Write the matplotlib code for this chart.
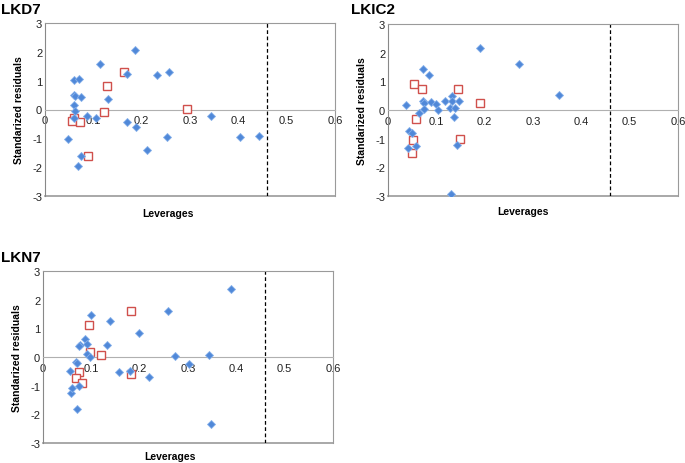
import numpy as np
from matplotlib import pyplot as plt

# LKD7
lkd7_train_lev = [0.047, 0.059, 0.070, 0.059, 0.062, 0.074, 0.059, 0.063, 0.060, 0.086,
                  0.105, 0.074, 0.069, 0.114, 0.131, 0.170, 0.186, 0.170, 0.189, 0.212,
                  0.232, 0.257, 0.253, 0.344, 0.403, 0.442]
lkd7_train_res = [-1.04, 1.02, 1.07, 0.52, 0.48, 0.43, 0.15, -0.06, -0.30, -0.21,
                  -0.31, -1.61, -1.96, 1.57, 0.36, 1.24, 2.08, -0.45, -0.61, -1.40,
                  1.19, 1.30, -0.97, -0.23, -0.94, -0.93]
lkd7_test_lev = [0.059, 0.055, 0.072, 0.088, 0.123, 0.129, 0.164, 0.294]
lkd7_test_res = [-0.30, -0.39, -0.42, -1.61, -0.10, 0.82, 1.31, 0.01]

# LKIC2
lkic2_train_lev = [0.038, 0.043, 0.050, 0.041, 0.057, 0.064, 0.072, 0.074, 0.074, 0.073,
                   0.085, 0.088, 0.099, 0.103, 0.117, 0.129, 0.133, 0.133, 0.138, 0.136,
                   0.146, 0.142, 0.130, 0.191, 0.271, 0.353]
lkic2_train_res = [0.19, -0.72, -0.79, -1.33, -1.26, -0.10, 0.32, 0.26, 0.02, 1.44,
                   1.23, 0.27, 0.20, -0.01, 0.31, 0.08, 0.49, 0.31, 0.07, -0.24,
                   0.31, -1.23, -2.94, 2.18, 1.61, 0.53]
lkic2_test_lev = [0.054, 0.070, 0.144, 0.191, 0.058, 0.052, 0.050, 0.149]
lkic2_test_res = [0.90, 0.72, 0.74, 0.26, -0.33, -1.06, -1.49, -1.00]

# LKN7
lkn7_train_lev = [0.055, 0.057, 0.061, 0.069, 0.070, 0.071, 0.076, 0.074, 0.075, 0.086,
                  0.090, 0.092, 0.097, 0.099, 0.132, 0.138, 0.157, 0.179, 0.198, 0.219,
                  0.259, 0.274, 0.303, 0.343, 0.348, 0.388]
lkn7_train_res = [-0.50, -1.25, -1.07, -0.16, -0.21, -1.80, 0.42, 0.38, -1.01, 0.63,
                  0.45, 0.12, -0.01, 1.46, 0.42, 1.26, -0.52, -0.49, 0.83, -0.70,
                  1.60, 0.05, -0.24, 0.06, -2.33, 2.36]
lkn7_test_lev = [0.095, 0.183, 0.097, 0.121, 0.074, 0.069, 0.081, 0.183]
lkn7_test_res = [1.12, 1.59, 0.17, 0.06, -0.52, -0.72, -0.90, -0.59]

h_star = 0.46
xticks = [0, 0.1, 0.2, 0.3, 0.4, 0.5, 0.6]
yticks = [-3, -2, -1, 0, 1, 2, 3]

W, H = 685, 464
fig = plt.figure(figsize=(W / 100, H / 100), dpi=100)
plt.rcParams['font.family'] = ['Liberation Sans', 'DejaVu Sans']

panels = [
    # name, axes box in px (left, top, right, bottom), title pos px, xlabel pos (axes frac)
    ("LKD7", (45, 24, 335, 197), (1, 10), (0.424, -0.072),
     lkd7_train_lev, lkd7_train_res, lkd7_test_lev, lkd7_test_res),
    ("LKIC2", (388, 25, 678, 197), (351, 10), (0.464, -0.060),
     lkic2_train_lev, lkic2_train_res, lkic2_test_lev, lkic2_test_res),
    ("LKN7", (43, 272, 333, 444), (1, 258), (0.438, -0.047),
     lkn7_train_lev, lkn7_train_res, lkn7_test_lev, lkn7_test_res),
]

grey = '#9a9a9a'
for name, box, tpos, xlpos, trl, trr, tel, ter in panels:
    l, t, r, b = box
    ax = fig.add_axes([l / W, 1 - b / H, (r - l) / W, (b - t) / H])
    ax.set_xlim(0, 0.6)
    ax.set_ylim(-3, 3)
    ax.set_xticks(xticks)
    ax.set_xticklabels([f"{v:g}" for v in xticks])
    ax.set_yticks(yticks)
    ax.set_yticklabels([f"{v:d}" for v in yticks])
    ax.tick_params(length=0, labelsize=8, colors='#222222', pad=2)
    ax.tick_params(axis='x', pad=4)

    # x axis drawn through y = 0, like the Excel original
    ax.spines['bottom'].set_position(('data', 0))
    ax.spines['bottom'].set_color('#b0b0b0')
    for s in ['top', 'right']:
        ax.spines[s].set_color(grey)
    ax.spines['left'].set_color('#888888')
    ax.axhline(-3, color=grey, lw=1.2, clip_on=False)

    ax.axvline(h_star, color='black', ls=(0, (3, 2)), lw=0.9)

    ax.plot(tel, ter, 's', ms=5.4, mfc='white', mec='#d0504c', mew=1.0, zorder=3)
    ax.plot(trl, trr, 'D', ms=4.4, mfc='#5088d8', mec='#86b0ea', mew=0.6, zorder=4)

    ax.set_ylabel("Standarized residuals", fontsize=7.5, fontweight='bold', labelpad=6)
    ax.set_xlabel("Leverages", fontsize=7.5, fontweight='bold')
    ax.xaxis.set_label_coords(*xlpos)

    fig.text(tpos[0] / W, 1 - tpos[1] / H, name, fontsize=11, fontweight='bold',
             va='center', ha='left')

fig.savefig("out.png", dpi=100)
